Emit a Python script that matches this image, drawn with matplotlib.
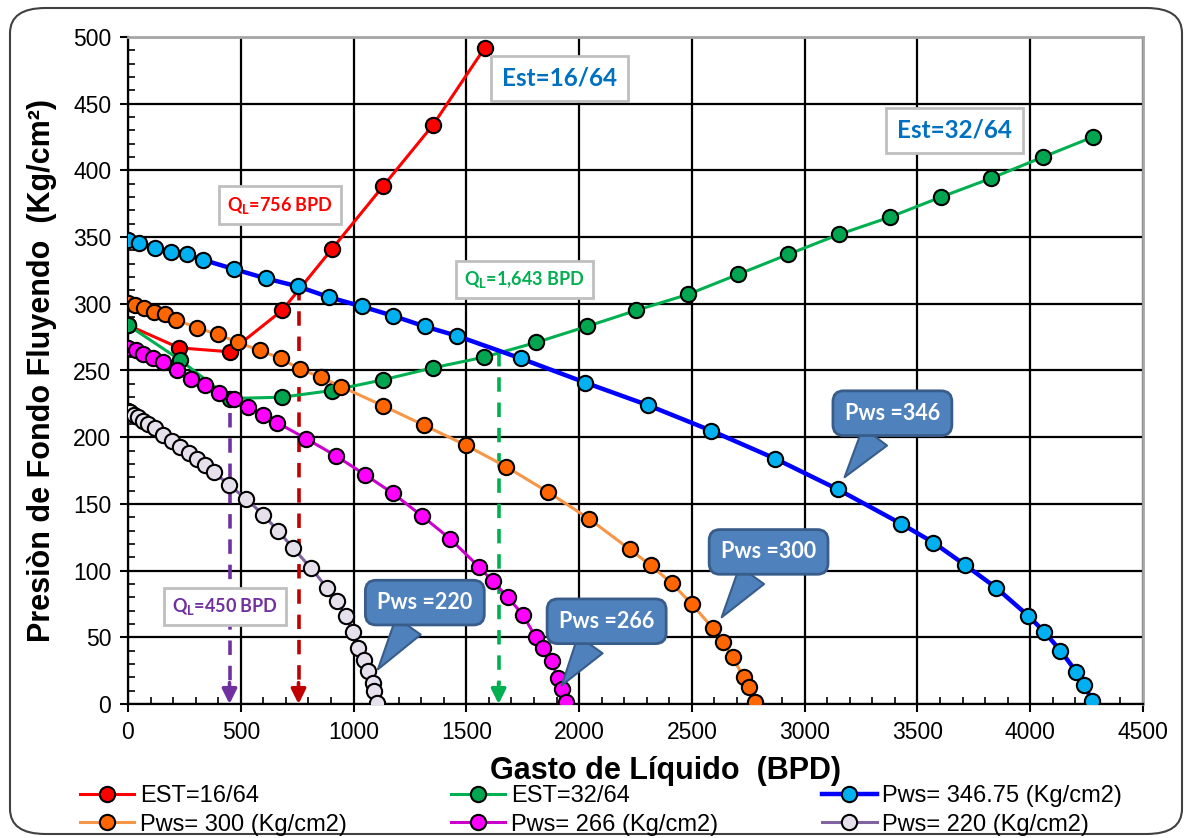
import matplotlib
matplotlib.use("Agg")
import matplotlib.pyplot as plt
from matplotlib.patches import FancyBboxPatch
from matplotlib.ticker import MultipleLocator

plt.rcParams['font.family'] = ['Liberation Sans', 'DejaVu Sans']
plt.rcParams['mathtext.fontset'] = 'custom'
plt.rcParams['mathtext.bf'] = 'Lato:bold'
plt.rcParams['mathtext.rm'] = 'Lato'

# curvas
red_x = [0, 226, 452, 683, 904, 1130, 1352, 1582]
red_y = [284, 267, 264, 295, 341, 388, 434, 492]

green_x = [0, 230, 452, 683, 904, 1130, 1352, 1578, 1809, 2034, 2252, 2482, 2704,
           2926, 3152, 3378, 3604, 3825, 4056, 4277]
green_y = [284, 258, 229, 230, 235, 243, 252, 260, 271, 283, 295, 307, 322,
           337, 352, 365, 380, 394, 410, 425]

blue_x = [0, 49, 120, 191, 261, 332, 470, 612, 754, 891, 1037, 1175, 1316, 1458,
          1742, 2026, 2305, 2584, 2868, 3146, 3429, 3571, 3713, 3850, 3992, 4063,
          4134, 4205, 4240, 4276]
blue_y = [348, 345.6, 342, 339, 337, 333, 326, 319, 313, 305, 298, 291, 283, 276,
          259, 241, 224, 205, 184, 161, 135, 121, 104, 87, 66, 54, 40, 24, 14, 2]

orange_x = [0, 31, 71, 115, 164, 213, 306, 399, 488, 585, 678, 762, 855, 944, 1130,
            1312, 1498, 1675, 1861, 2043, 2224, 2317, 2410, 2499, 2592, 2636, 2681,
            2729, 2751, 2778]
orange_y = [300.6, 299, 297, 294, 292, 288, 282, 277, 271, 265, 259, 251, 245, 238,
            223.6, 209, 194, 178, 159, 139, 116, 104, 90.6, 75, 57, 46.5, 35, 20,
            12.7, 1.5]

magenta_x = [0, 35, 66, 111, 155, 217, 279, 341, 403, 470, 532, 598, 660, 789, 922,
             1050, 1174, 1303, 1427, 1555, 1617, 1684, 1750, 1808, 1839, 1879, 1905,
             1923, 1940]
magenta_y = [267, 265, 262, 259, 256, 250, 244, 239, 233, 228.6, 223, 217, 211, 199,
             186, 172, 158, 141, 124, 103, 92, 80, 67, 50, 42, 32, 19.6, 11, 1.5]

gray_x = [0, 9, 27, 44, 66, 89, 120, 155, 195, 230, 270, 306, 341, 381, 448, 523,
          598, 665, 731, 811, 882, 926, 966, 997, 1019, 1046, 1064, 1086, 1090, 1103]
gray_y = [220, 219, 217, 215, 212, 210, 207, 202, 197, 193, 188, 184, 179, 174, 164,
          154, 142, 130, 117, 102, 87, 77, 66, 54, 42, 33, 25, 16, 10, 1]

labels = ['EST=16/64', 'EST=32/64', 'Pws= 346.75 (Kg/cm2)',
          'Pws= 300 (Kg/cm2)', 'Pws= 266 (Kg/cm2)', 'Pws= 220 (Kg/cm2)']

# caudales de operacion (flechas)
q_vals = [450, 756, 1643]
q_tops = [218, 313, 264]
q_colors = ['#7030A0', '#C00000', '#00B050']

fig = plt.figure(figsize=(11.86, 8.38), dpi=100)
ax = fig.add_axes([128/1186, 1-704/838, (1143-128)/1186, (704-37)/838])

# marco redondeado de la figura
fig.patches.append(FancyBboxPatch((10/1186, 4/838), 1172/1186, 826/838,
                                  boxstyle='round,pad=0,rounding_size=0.03',
                                  transform=fig.transFigure, fc='none',
                                  ec='#404040', lw=1.5, zorder=0))

mk = dict(marker='o', markersize=11, markeredgecolor='black', markeredgewidth=1.5)
l1, = ax.plot(red_x, red_y, color='#FF0000', lw=2.2, markerfacecolor='#FF0000', zorder=4, **mk)
l2, = ax.plot(green_x, green_y, color='#00B050', lw=2.2, markerfacecolor='#00A550', zorder=4, **mk)
l3, = ax.plot(blue_x, blue_y, color='#0000FF', lw=3.2, markerfacecolor='#00B0F0', zorder=4, **mk)
l4, = ax.plot(orange_x, orange_y, color='#F79646', lw=2.2, markerfacecolor='#FF6600', zorder=4, **mk)
l5, = ax.plot(magenta_x, magenta_y, color='#CC00CC', lw=2.2, markerfacecolor='#FF00FF', zorder=4, **mk)
l6, = ax.plot(gray_x, gray_y, color='#8064A2', lw=2.2, markerfacecolor='#E6E0EC', zorder=4, **mk)

for q, top, c in zip(q_vals, q_tops, q_colors):
    ax.plot([q, q], [top, 14], color=c, lw=2.6, dashes=(4, 3), zorder=3)
    ax.annotate('', xy=(q, 0), xytext=(q, 16),
                arrowprops=dict(arrowstyle='-|>', color=c, lw=2.6, mutation_scale=22,
                                shrinkA=0, shrinkB=0), zorder=3)

ax.set_xlim(0, 4500)
ax.set_ylim(0, 500)
ax.xaxis.set_major_locator(MultipleLocator(500))
ax.xaxis.set_minor_locator(MultipleLocator(100))
ax.yaxis.set_major_locator(MultipleLocator(50))
ax.yaxis.set_minor_locator(MultipleLocator(10))
ax.grid(True, which='major', color='black', lw=1.6, zorder=1)
ax.set_axisbelow(True)
ax.tick_params(which='major', direction='out', length=6, width=1.5, labelsize=16.5, pad=6)
ax.tick_params(which='minor', direction='in', length=5, width=1.2)
for s in ['left', 'bottom']:
    ax.spines[s].set_color('black')
    ax.spines[s].set_linewidth(1.6)
for s in ['top', 'right']:
    ax.spines[s].set_color('#A6A6A6')
    ax.spines[s].set_linewidth(2)

ax.set_xlabel('Gasto de Líquido  (BPD)', fontsize=22, fontweight='bold')
ax.set_ylabel('Presiòn de Fondo Fluyendo  (Kg/cm²)', fontsize=22, fontweight='bold')
ax.xaxis.set_label_coords(0.53, -0.078)
ax.yaxis.set_label_coords(-0.07, 0.5)

# etiquetas en recuadro
box = dict(boxstyle='square,pad=0.45', fc='white', ec='#BFBFBF', lw=2)
ax.text(673, 374, r'$\mathbf{Q}_{\mathbf{L}}$=756 BPD', color='#FF0000', fontsize=13,
        fontweight='bold', family='Lato', ha='center', va='center', bbox=box, zorder=6)
ax.text(1759, 318, r'$\mathbf{Q}_{\mathbf{L}}$=1,643 BPD', color='#00B050', fontsize=13,
        fontweight='bold', family='Lato', ha='center', va='center', bbox=box, zorder=6)
ax.text(430, 73, r'$\mathbf{Q}_{\mathbf{L}}$=450 BPD', color='#7030A0', fontsize=13,
        fontweight='bold', family='Lato', ha='center', va='center', bbox=box, zorder=6)
ax.text(1914, 469, 'Est=16/64', color='#0070C0', fontsize=17.5, fontweight='bold',
        family='Lato', ha='center', va='center', bbox=box, zorder=6)
ax.text(3664, 430, 'Est=32/64', color='#0070C0', fontsize=17.5, fontweight='bold',
        family='Lato', ha='center', va='center', bbox=box, zorder=6)

# globos Pws
callouts = [('Pws =346', (3389, 218), (3177, 170)),
            ('Pws =300', (2840, 114), (2632, 65)),
            ('Pws =266', (2122, 62), (1923, 14)),
            ('Pws =220', (1316, 76), (1108, 26))]
for txt, pos, tip in callouts:
    ax.annotate(txt, xy=tip, xytext=pos, color='white', fontsize=15.5, fontweight='bold',
                family='Lato', ha='center', va='center', zorder=7,
                bbox=dict(boxstyle='round,pad=0.55,rounding_size=0.5', fc='#4F81BD',
                          ec='#385D8A', lw=2),
                arrowprops=dict(arrowstyle='wedge,tail_width=1.4,shrink_factor=0.5',
                                fc='#4F81BD', ec='#385D8A', lw=1.5, shrinkA=0, shrinkB=0))

handles = [l1, l4, l2, l5, l3, l6]
hlabels = [labels[0], labels[3], labels[1], labels[4], labels[2], labels[5]]
fig.legend(handles, hlabels, loc='upper left', bbox_to_anchor=(80/1186, 1-785/838),
           ncol=3, frameon=False, fontsize=17, borderpad=0, handlelength=2.3,
           handletextpad=0.25, columnspacing=4.4, labelspacing=0.28, borderaxespad=0)

fig.savefig('out.png', dpi=100)
